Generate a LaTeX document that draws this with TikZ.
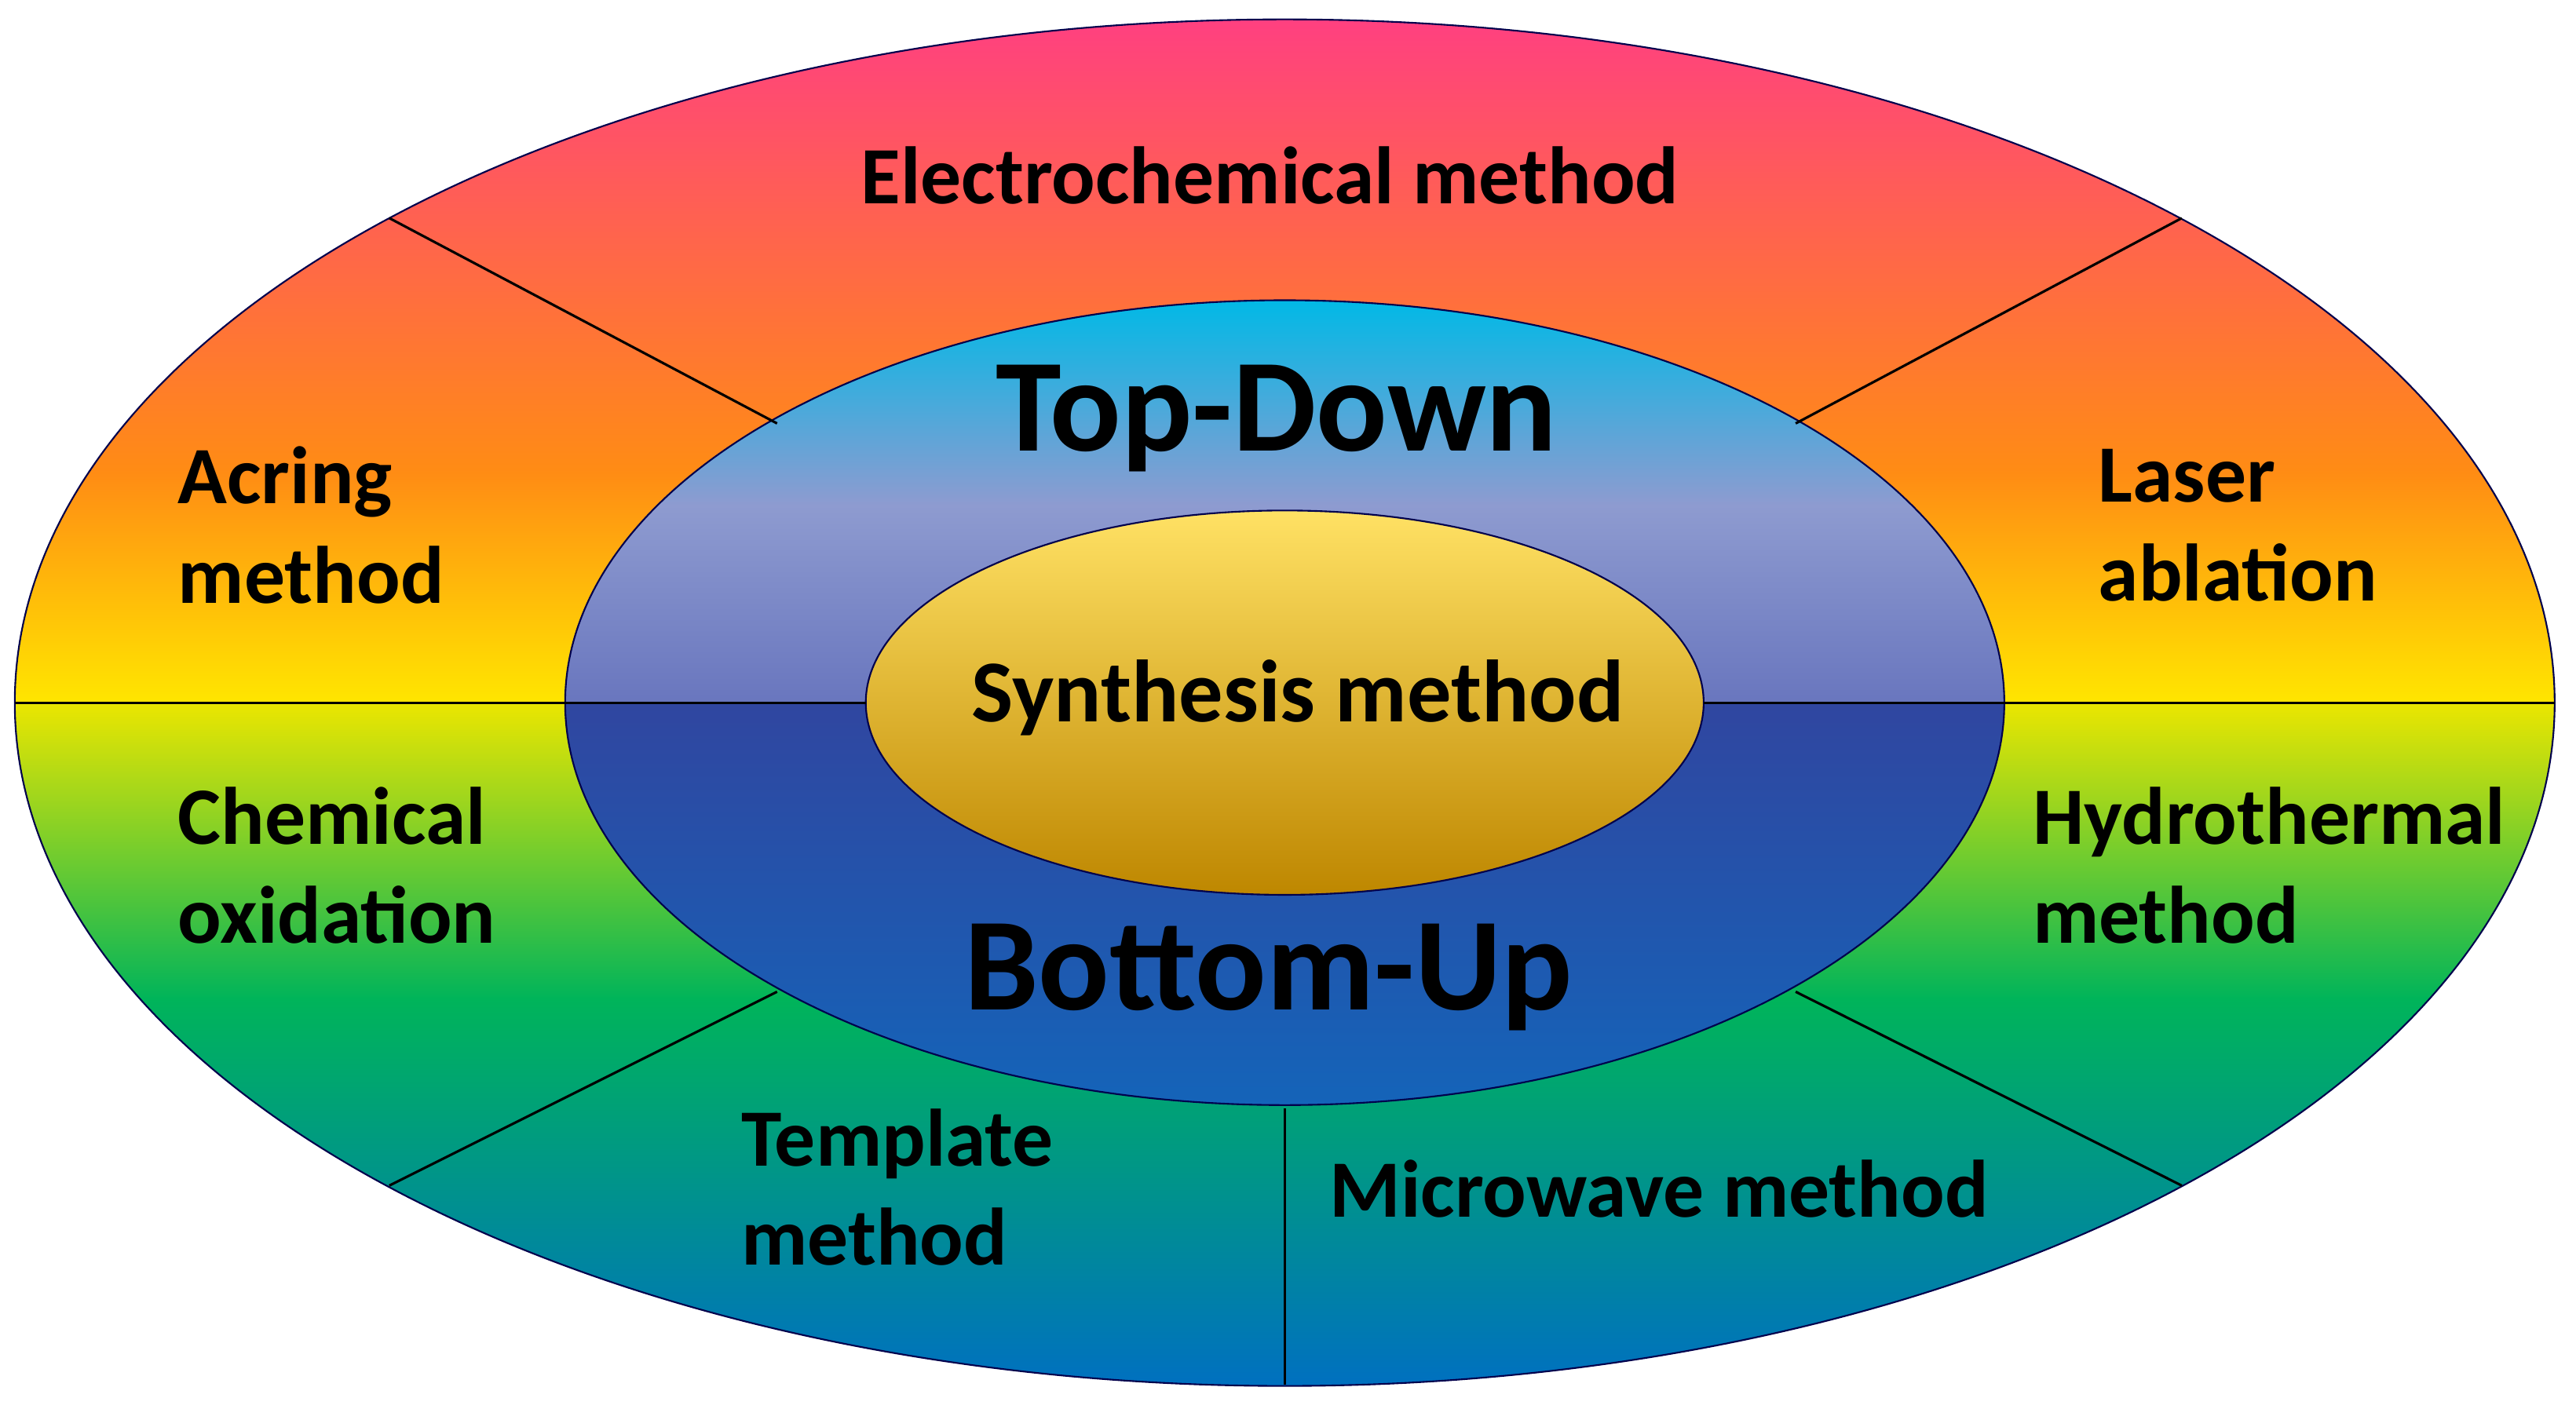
\documentclass[tikz,border=0pt]{standalone}
\usepackage{fontspec}
\setmainfont{Carlito}
\definecolor{pk}{RGB}{255,64,128}
\definecolor{orA}{RGB}{255,140,20}
\definecolor{yl}{RGB}{255,230,0}
\definecolor{yg}{RGB}{235,230,0}
\definecolor{gr}{RGB}{0,180,90}
\definecolor{bl}{RGB}{0,112,192}
\definecolor{cy}{RGB}{0,185,230}
\definecolor{lav}{RGB}{142,155,208}
\definecolor{slate}{RGB}{105,118,190}
\definecolor{db}{RGB}{48,70,160}
\definecolor{mb}{RGB}{20,100,185}
\definecolor{ly}{RGB}{255,225,100}
\definecolor{gd}{RGB}{255,185,0}
\definecolor{bg}{RGB}{190,135,0}
\begin{document}
\begin{tikzpicture}[x=0.020925cm,y=0.020925cm,
  lbl/.style={font=\bfseries\fontsize{29.5}{36}\selectfont,align=left,inner sep=0pt},
  big/.style={font=\bfseries\fontsize{48}{56}\selectfont,inner sep=0pt},
  sep/.style={draw=black,line width=0.9pt},
  rim/.style={draw=black!70!blue,line width=0.6pt}]
\useasboundingbox (0,0) rectangle (1568,857.8);
\coordinate (c) at (782,430);
\begin{scope}
\clip (c) ellipse [x radius=773,y radius=416];
\shade[top color=pk, bottom color=orA] (0,569.5) rectangle (1568,846);
\shade[top color=orA, bottom color=yl] (0,430) rectangle (1568,570);
\shade[top color=yg, bottom color=gr] (0,249.5) rectangle (1568,430);
\shade[top color=gr, bottom color=bl] (0,14) rectangle (1568,250);
\end{scope}
\draw[rim] (c) ellipse [x radius=773,y radius=416];
\begin{scope}
\clip (c) ellipse [x radius=438,y radius=245];
\shade[top color=cy, bottom color=lav] (0,550) rectangle (1568,676);
\shade[top color=lav, bottom color=slate] (0,430) rectangle (1568,550.5);
\shade[top color=db, bottom color=mb] (0,184) rectangle (1568,430);
\end{scope}
\draw[rim] (c) ellipse [x radius=438,y radius=245];
\shade[top color=ly, middle color=gd, bottom color=bg, draw=black!70!blue, line width=0.6pt] (c) ellipse [x radius=255,y radius=117];
\coordinate (h1) at (9,430); \coordinate (h2) at (344,430);
\coordinate (h3) at (527,430); \coordinate (h4) at (1037,430);
\coordinate (h5) at (1220,430); \coordinate (h6) at (1555,430);
\draw[sep] (h1) -- (h2); \draw[sep] (h2) -- (h3);
\draw[sep] (h4) -- (h5); \draw[sep] (h5) -- (h6);
\coordinate (a1) at (237,725); \coordinate (a2) at (473,600);
\coordinate (b1) at (1328,725); \coordinate (b2) at (1093,600);
\coordinate (d1) at (237,136); \coordinate (d2) at (473,254);
\coordinate (e1) at (1328,136); \coordinate (e2) at (1093,254);
\coordinate (f1) at (782,183); \coordinate (f2) at (782,15);
\draw[sep] (a1) -- (a2); \draw[sep] (b1) -- (b2);
\draw[sep] (d1) -- (d2); \draw[sep] (e1) -- (e2);
\draw[sep] (f1) -- (f2);
\node[lbl] (elec) at (773,751) {Electrochemical method};
\node[lbl,anchor=west] (acr) at (108,538) {Acring\\method};
\node[lbl,anchor=west] (las) at (1277,538) {Laser\\ablation};
\node[lbl,anchor=west] (chem) at (108,331) {Chemical\\oxidation};
\node[lbl,anchor=west] (hyd) at (1237,331) {Hydrothermal\\method};
\node[lbl,anchor=west] (tmp) at (451,135) {Template\\method};
\node[lbl] (mic) at (1010,134) {Microwave method};
\node[big] (td) at (777,603) {Top-Down};
\node[big] (bu) at (772,263) {Bottom-Up};
\node[lbl,font=\bfseries\fontsize{32}{36}\selectfont] (syn) at (790,433) {Synthesis method};
\end{tikzpicture}
\end{document}
